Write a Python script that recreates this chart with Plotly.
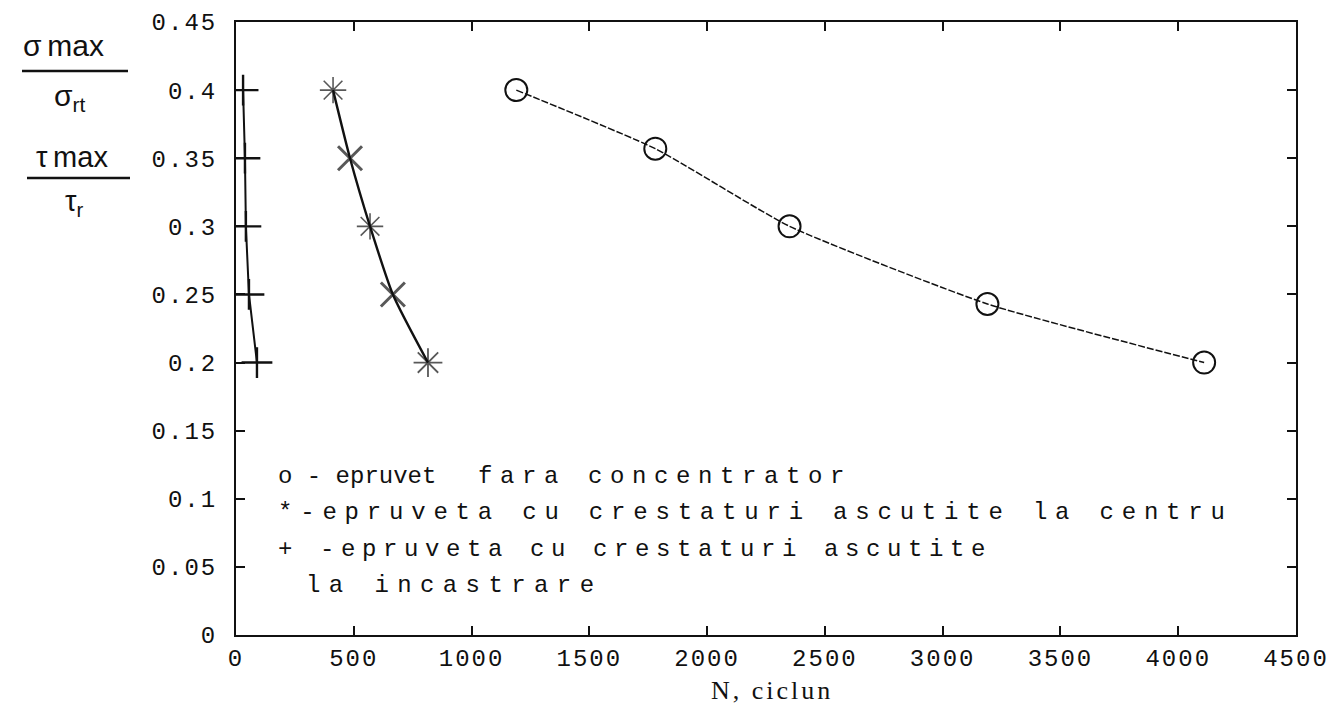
import plotly.graph_objects as go

# Fatigue tests: relative stress level vs. number of cycles to failure
stress_levels = [0.4, 0.35, 0.3, 0.25, 0.2]

n_plain = [1190, 1780, 2350, 3190, 4110]          # specimen without stress concentrator
stress_plain = [0.4, 0.357, 0.3, 0.243, 0.2]

n_notch_center = [412, 484, 569, 666, 815]        # sharp notches at the centre
n_notch_clamp = [30, 38, 42, 55, 89]              # sharp notches at the clamping end

x_ticks = [0, 500, 1000, 1500, 2000, 2500, 3000, 3500, 4000, 4500]
x_tick_labels = ["0", "500", "1000", "1500", "2000", "2500", "3000", "3500", "4000", "4500"]
y_ticks = [0, 0.05, 0.1, 0.15, 0.2, 0.25, 0.3, 0.35, 0.4, 0.45]
y_tick_labels = ["0", "0.05", "0.1", "0.15", "0.2", "0.25", "0.3", "0.35", "0.4", "0.45"]

# legend text, drawn as pieces: (text, left x in px, centre y in px, letter gap)
legend_pieces = [
    ("o - epruvet", 276, 476, 0.0),
    ("fara concentrator", 476, 476, 7.6),
    ("*-epruveta cu crestaturi ascutite la centru", 276, 512, 7.8),
    ("+ -epruveta cu crestaturi ascutite", 276, 549, 6.6),
    ("la incastrare", 304, 585, 8.4),
]

MONO = "Liberation Mono, DejaVu Sans Mono, monospace"
INK = "#111111"


def spaced(text, px):
    return f'<span style="letter-spacing:{px}px">{text}</span>'


fig = go.Figure()

# specimen without concentrator: smooth dashed curve with open circles
fig.add_trace(go.Scatter(
    x=n_plain, y=stress_plain, mode="lines",
    line=dict(color=INK, width=1.5, dash="7px,2px", shape="spline", smoothing=0.5),
    showlegend=False,
))
fig.add_trace(go.Scatter(
    x=n_plain, y=stress_plain, mode="markers",
    marker=dict(symbol="circle-open", size=22, color=INK, line=dict(width=2, color=INK)),
    showlegend=False,
))

# notches at centre: asterisks alternating with crosses
fig.add_trace(go.Scatter(
    x=n_notch_center, y=stress_levels, mode="lines",
    line=dict(color=INK, width=2.4, shape="spline", smoothing=0.6),
    showlegend=False,
))
fig.add_trace(go.Scatter(
    x=n_notch_center, y=stress_levels, mode="markers",
    marker=dict(
        symbol=["asterisk-open", "x-thin-open", "asterisk-open", "x-thin-open", "asterisk-open"],
        size=[22, 24, 22, 24, 24],
        color=INK,
        line=dict(width=[1.6, 3, 1.6, 3, 1.8], color=INK),
    ),
    showlegend=False,
))

# notches at clamping end: plus markers
fig.add_trace(go.Scatter(
    x=n_notch_clamp, y=stress_levels, mode="lines+markers",
    line=dict(color=INK, width=2),
    marker=dict(symbol="cross-thin-open", size=22, color=INK, line=dict(width=2.4, color=INK)),
    showlegend=False,
))

W, H = 1337, 709
L, R, T, B = 236, 1296, 22, 635


def to_paper(px, py):
    return (px - L) / (R - L), (B - py) / (B - T)


annotations = []

# text legend inside the axes
for txt, px, py, gap in legend_pieces:
    ax, ay = to_paper(px, py)
    annotations.append(dict(
        text=spaced(txt, gap), x=ax, y=ay,
        xref="paper", yref="paper", xanchor="left", yanchor="middle",
        showarrow=False, font=dict(family=MONO, size=24, color=INK),
    ))


def px_annot(text, px, py, size, family="Liberation Sans, Arial, sans-serif"):
    ax, ay = to_paper(px, py)
    annotations.append(dict(
        text=text, x=ax, y=ay,
        xref="paper", yref="paper", xanchor="center", yanchor="middle",
        showarrow=False, font=dict(family=family, size=size, color=INK),
    ))


# stacked y-axis label: sigma_max / sigma_rt and tau_max / tau_r
px_annot("σ<sup> </sup>max", 63, 43, 30)
px_annot("σ<sub>rt</sub>", 70, 98, 30)
px_annot("τ<sup> </sup>max", 72, 155, 29)
px_annot("τ<sub>r</sub>", 74, 203, 29)

# x-axis title
px_annot(spaced("N, ciclun", 3), 772, 690, 26, "Liberation Serif, serif")

shapes = []
for x0, x1, y in [(22, 128, 71), (27, 130, 178)]:
    a0, b = to_paper(x0, y)
    a1, _ = to_paper(x1, y)
    shapes.append(dict(type="line", xref="paper", yref="paper",
                       x0=a0, x1=a1, y0=b, y1=b, line=dict(color=INK, width=2.5)))

axis_common = dict(
    showgrid=False, zeroline=False, showline=True, linecolor=INK, linewidth=2,
    mirror="ticks", ticks="inside", ticklen=9, tickwidth=1.6, tickcolor=INK,
    tickfont=dict(family=MONO, size=24, color=INK), automargin=False,
)

fig.update_layout(
    width=W, height=H,
    margin=dict(l=L, r=W - R, t=T, b=H - B, autoexpand=False),
    paper_bgcolor="white", plot_bgcolor="white",
    xaxis=dict(range=[0, 4500], tickvals=x_ticks,
               ticktext=[spaced(t, 2) for t in x_tick_labels], **axis_common),
    yaxis=dict(range=[0, 0.45], tickvals=y_ticks,
               ticktext=[spaced(t, 2) for t in y_tick_labels],
               ticklabelstandoff=12, **axis_common),
    annotations=annotations,
    shapes=shapes,
)

fig.write_html("out.html")
